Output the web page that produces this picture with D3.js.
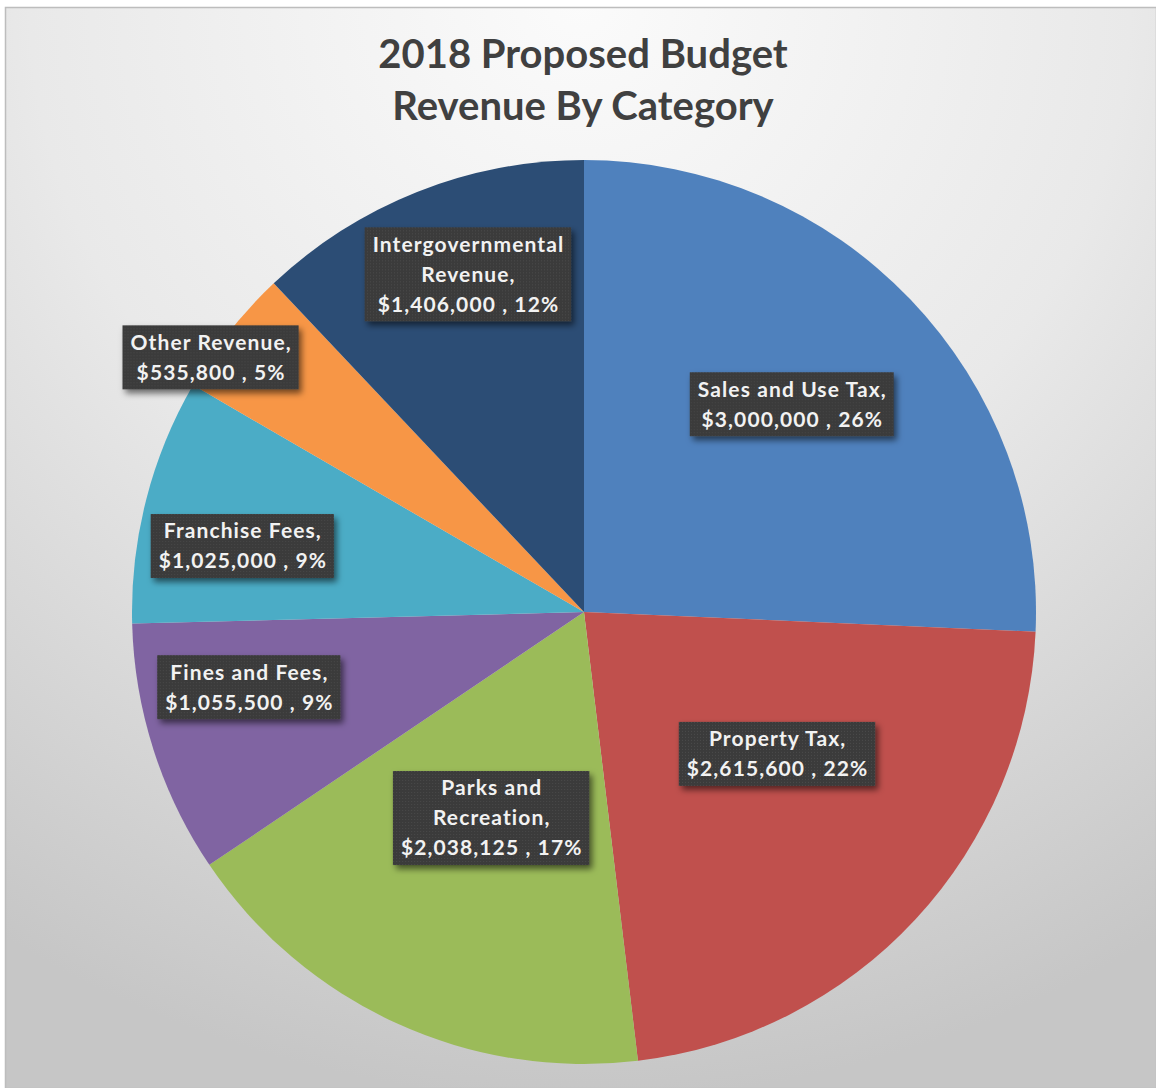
<!DOCTYPE html>
<html>
<head>
<meta charset="utf-8">
<script src="https://cdn.jsdelivr.net/npm/d3@7"></script>
<style>
  html, body { margin: 0; padding: 0; background: #ffffff; }
  svg { display: block; }
</style>
</head>
<body>
<svg id="chart" width="1156" height="1088"></svg>
<script>
// ---- Data ----
const titleLines = ["2018 Proposed Budget", "Revenue By Category"];
const categories = ["Sales and Use Tax", "Property Tax", "Parks and Recreation", "Fines and Fees", "Franchise Fees", "Other Revenue", "Intergovernmental Revenue"];
const values = [3000000, 2615600, 2038125, 1055500, 1025000, 535800, 1406000];

// ---- Layout / style (not data) ----
const colors = ["#4f81bd", "#c0504d", "#9bbb59", "#8064a2", "#4bacc6", "#f79646", "#2c4d75"];
const labelRadiusFrac = [0.65, 0.53, 0.50, 0.76, 0.77, 1.0, 0.79];
const labelAngleShiftDeg = [-1.25, -6.5, -0.3, 5.1, -3.4, -4.1, 2.7];

const W = 1156, H = 1088;
const cx = 584, cy = 612, R = 452;
const FONT = "Lato, 'Open Sans', sans-serif";

const svg = d3.select("#chart");
const defs = svg.append("defs");

// background gradient
const bg = defs.append("radialGradient")
  .attr("id", "bgGrad").attr("gradientUnits", "userSpaceOnUse")
  .attr("cx", 580).attr("cy", 0).attr("r", 1100);
bg.append("stop").attr("offset", "0").attr("stop-color", "#fbfbfb");
bg.append("stop").attr("offset", "0.5").attr("stop-color", "#e9e9e9");
bg.append("stop").attr("offset", "1").attr("stop-color", "#c6c6c6");

// label dotted texture
const pat = defs.append("pattern").attr("id", "dots")
  .attr("width", 3).attr("height", 3).attr("patternUnits", "userSpaceOnUse");
pat.append("rect").attr("width", 3).attr("height", 3).attr("fill", "#3a3a3a");
pat.append("rect").attr("x", 1).attr("y", 1).attr("width", 1).attr("height", 1).attr("fill", "#4a4a4a");

const shadow = defs.append("filter").attr("id", "shadow")
  .attr("x", "-20%").attr("y", "-20%").attr("width", "150%").attr("height", "160%");
shadow.append("feDropShadow").attr("dx", 3).attr("dy", 4).attr("stdDeviation", 3)
  .attr("flood-color", "#000").attr("flood-opacity", 0.55);

svg.append("rect").attr("x", 5.5).attr("y", 7.5).attr("width", W - 5).attr("height", H - 7)
  .attr("fill", "url(#bgGrad)").attr("stroke", "#bdbdbd").attr("stroke-width", 1.5);

// title
svg.append("g").selectAll("text").data(titleLines).join("text")
  .attr("x", 583).attr("y", (d, i) => 68 + i * 52)
  .attr("text-anchor", "middle")
  .attr("font-family", FONT)
  .attr("font-weight", 700).attr("font-size", 40)
  .attr("fill", "#404040")
  .text(d => d);

// pie
const total = d3.sum(values);
const pie = d3.pie().sort(null).value(d => d)(values);
const arc = d3.arc().innerRadius(0).outerRadius(R);
const g = svg.append("g").attr("transform", `translate(${cx},${cy})`);
g.selectAll("path").data(pie).join("path")
  .attr("d", arc)
  .attr("fill", (d, i) => colors[i]);

// labels
const fmtMoney = d3.format("$,");
const fmtPct = d3.format(".0%");
const fontSize = 21, letterSp = 1.1, lineH = 30, maxW = 210, padX = 8, padY = 2;
const lg = svg.append("g");

function wrapWords(text, measure) {
  const words = text.split(" ");
  const lines = [];
  let cur = "";
  for (const w of words) {
    const t = cur ? cur + " " + w : w;
    if (cur && measure(t) > maxW) { lines.push(cur); cur = w; }
    else cur = t;
  }
  lines.push(cur);
  return lines;
}

const measurer = lg.append("text")
  .attr("font-family", FONT)
  .attr("font-weight", 700).attr("font-size", fontSize)
  .attr("letter-spacing", letterSp);
const measure = s => { measurer.text(s); return measurer.node().getComputedTextLength() - letterSp; };

pie.forEach((d, i) => {
  const nameLines = wrapWords(categories[i] + ",", measure);
  const lines = nameLines.concat([fmtMoney(values[i]) + " , " + fmtPct(values[i] / total)]);
  const ang = (d.startAngle + d.endAngle) / 2 + labelAngleShiftDeg[i] * Math.PI / 180;
  const r = R * labelRadiusFrac[i];
  const lx = cx + r * Math.sin(ang);
  const ly = cy - r * Math.cos(ang);
  const wMax = d3.max(lines, measure);
  const bw = wMax + padX * 2;
  const bh = lines.length * lineH + padY * 2;
  const grp = lg.append("g").attr("transform", `translate(${lx},${ly})`);
  grp.append("rect")
    .attr("x", -bw / 2).attr("y", -bh / 2).attr("width", bw).attr("height", bh)
    .attr("fill", "url(#dots)").attr("filter", "url(#shadow)");
  grp.selectAll("text").data(lines).join("text")
    .attr("x", letterSp / 2)
    .attr("y", (t, j) => -bh / 2 + padY + lineH * j + lineH / 2)
    .attr("dy", "0.35em")
    .attr("text-anchor", "middle")
    .attr("font-family", FONT)
    .attr("font-weight", 700).attr("font-size", fontSize)
    .attr("letter-spacing", letterSp)
    .attr("fill", "#f2f2f2")
    .text(t => t);
});
measurer.remove();
</script>
</body>
</html>
